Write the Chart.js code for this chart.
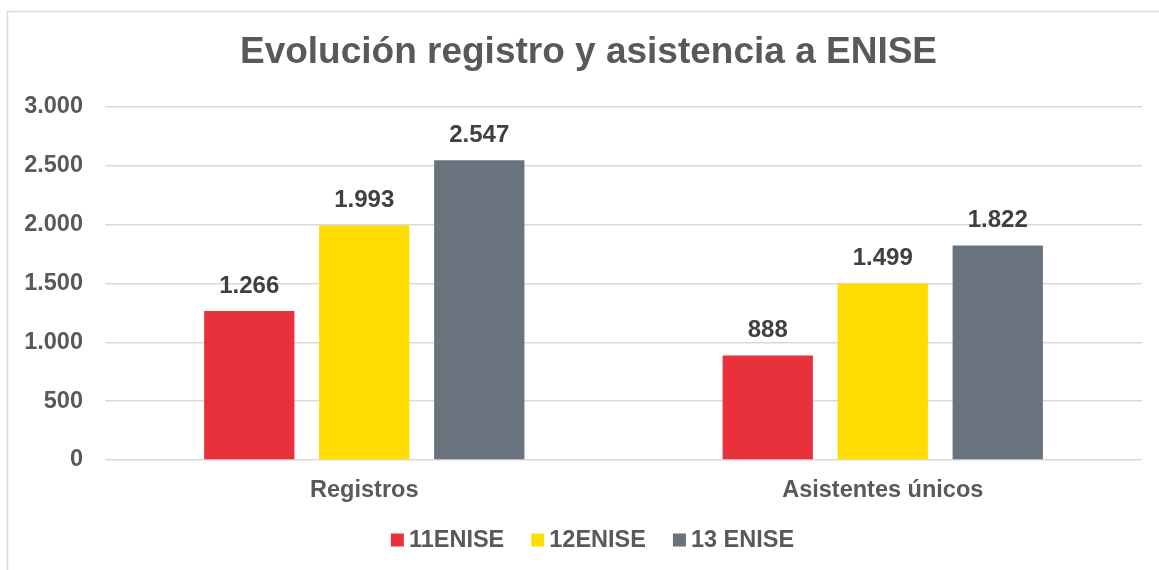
<!DOCTYPE html>
<html>
<head>
<meta charset="utf-8">
<script src="https://cdn.jsdelivr.net/npm/chart.js@4/dist/chart.umd.min.js"></script>
<style>
html,body{margin:0;padding:0;background:#fff;}
#wrap{position:relative;width:1159px;height:570px;}
</style>
</head>
<body>
<div id="wrap"><canvas id="c" width="1159" height="570"></canvas></div>
<script>
const categories = ["Registros", "Asistentes únicos"];
const seriesNames = ["11ENISE", "12ENISE", "13 ENISE"];
const values11 = [1266, 888];
const values12 = [1993, 1499];
const values13 = [2547, 1822];
const yTicks = [0, 500, 1000, 1500, 2000, 2500, 3000];
const colors = ["#E8313A", "#FFDD00", "#68737D"];

const FONT = "'Liberation Sans', Arial, sans-serif";
function fmt(v){ return String(Math.round(v)).replace(/\B(?=(\d{3})+(?!\d))/g, "."); }

const borderPlugin = {
  id: "frame",
  afterLayout(chart){
    const t = chart.titleBlock;
    if (t) { t.left = 35; t.right = 1142; t.width = t.right - t.left; }
  },
  beforeDraw(chart){
    const ctx = chart.ctx;
    ctx.save();
    ctx.fillStyle = "#fff";
    ctx.fillRect(0,0,chart.width,chart.height);
    ctx.strokeStyle = "#d9d9d9";
    ctx.lineWidth = 1.5;
    ctx.strokeRect(7.5, 11.5, 1170, 580);
    ctx.restore();
  }
};

const labelPlugin = {
  id: "valueLabels",
  afterDatasetsDraw(chart){
    const ctx = chart.ctx;
    ctx.save();
    ctx.font = "bold 24px " + FONT;
    ctx.fillStyle = "#404040";
    ctx.textAlign = "center";
    ctx.textBaseline = "middle";
    chart.data.datasets.forEach((ds, i) => {
      chart.getDatasetMeta(i).data.forEach((bar, j) => {
        ctx.fillText(fmt(ds.data[j]), bar.x, bar.y - 25);
      });
    });
    ctx.restore();
  }
};

const legendPlugin = {
  id: "customLegend",
  afterDraw(chart){
    const ctx = chart.ctx;
    ctx.save();
    ctx.font = "bold 23.5px " + FONT;
    ctx.textBaseline = "middle";
    ctx.textAlign = "left";
    const box = 13, gap = 5, spacing = 27;
    const items = chart.data.datasets.map(ds => ({ text: ds.label, color: ds.backgroundColor, w: ctx.measureText(ds.label).width }));
    const total = items.reduce((a, it) => a + box + gap + it.w, 0) + spacing * (items.length - 1);
    let x = 592.5 - total / 2;
    const cy = 540;
    items.forEach(it => {
      ctx.fillStyle = it.color;
      ctx.fillRect(x, cy - box / 2, box, box);
      ctx.fillStyle = "#595959";
      ctx.fillText(it.text, x + box + gap, cy + 1);
      x += box + gap + it.w + spacing;
    });
    ctx.restore();
  }
};

const seriesData = [values11, values12, values13];

new Chart(document.getElementById("c"), {
  type: "bar",
  data: {
    labels: categories,
    datasets: seriesNames.map((n, i) => ({
      label: n,
      data: seriesData[i],
      backgroundColor: colors[i],
      borderWidth: 0,
      categoryPercentage: 0.6654,
      barPercentage: 0.785
    }))
  },
  options: {
    responsive: false,
    animation: false,
    devicePixelRatio: 1,
    layout: { padding: { top: 12, left: 0, right: 17, bottom: 50 } },
    plugins: {
      title: {
        display: true,
        text: "Evolución registro y asistencia a ENISE",
        color: "#595959",
        font: { family: FONT, size: 37, weight: "bold", lineHeight: 1.2 },
        padding: { top: 19, bottom: 31.6 }
      },
      legend: { display: false },
      tooltip: { enabled: false }
    },
    scales: {
      x: {
        grid: { display: false, drawTicks: false },
        border: { display: false },
        ticks: {
          color: "#595959",
          padding: 16,
          font: { family: FONT, size: 23.5, weight: "bold" }
        },
        afterFit(s){ s.height = 60; }
      },
      y: {
        min: 0, max: 3000,
        afterBuildTicks(s){ s.ticks = yTicks.map(v => ({ value: v })); },
        grid: { color: "#d9d9d9", lineWidth: 1.5, drawTicks: false },
        border: { display: false },
        ticks: {
          color: "#595959",
          padding: 22,
          font: { family: FONT, size: 23.5, weight: "bold" },
          callback: v => fmt(v)
        },
        afterFit(s){ s.width = 105; }
      }
    }
  },
  plugins: [borderPlugin, labelPlugin, legendPlugin]
});
</script>
</body>
</html>
